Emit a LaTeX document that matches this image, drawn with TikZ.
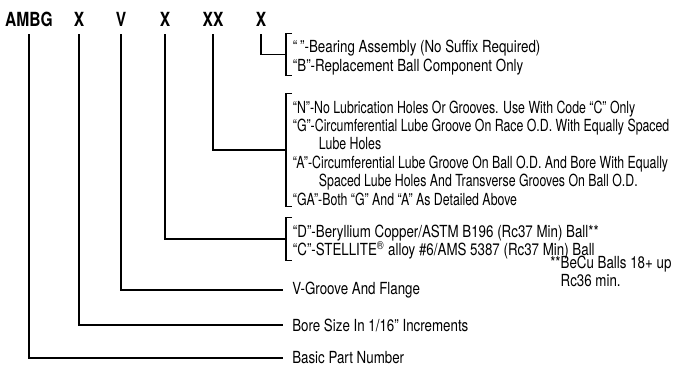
\documentclass[tikz,border=0pt]{standalone}
\usepackage{fontspec}
\setmainfont{TeX Gyre Heros}[FakeStretch=0.8]
\newfontfamily\narrowfont{TeX Gyre Heros}[FakeStretch=0.74]
\usepackage{tikz}
\usetikzlibrary{positioning}

\begin{document}
\begin{tikzpicture}[x=0.75pt,y=-0.75pt,
code/.style={font=\fontsize{14.6}{16}\selectfont\bfseries, inner xsep=0pt, inner ysep=6pt, text height=10.5pt, text depth=0pt},
desc/.style={font=\fontsize{12.5}{13.8}\selectfont, anchor=west, inner xsep=6.75pt, inner ysep=0pt},
group/.style={desc, align=left, inner xsep=5pt, inner ysep=0.5pt},
link/.style={line width=0.8pt},
bracket/.style={line width=0.8pt}
]
\useasboundingbox (0,0) rectangle (674,368);
\node[code] (base) at (29,19) {AMBG};
\node[code] (bore) at (79,19) {X};
\node[code] (vgroove) at (121,19) {V};
\node[code] (ballmat) at (165,19) {X};
\node[code] (lube) at (213,19) {XX};
\node[code] (suffix) at (261,19) {X};

\node[group] (suffixtxt) at (286,54.5) {\rule{0pt}{14pt}“\,”-Bearing Assembly (No Suffix Required)\\“B”-Replacement Ball Component Only};
\node[group, font=\fontsize{12.5}{13.8}\selectfont\narrowfont] (lubetxt) at (286,150) {\rule{0pt}{14pt}“N”-No Lubrication Holes Or Grooves. Use With Code “C” Only\\
“G”-Circumferential Lube Groove On Race O.D. With Equally Spaced\\
\hspace*{19.5pt}Lube Holes\\
“A”-Circumferential Lube Groove On Ball O.D. And Bore With Equally\\
\hspace*{19.5pt}Spaced Lube Holes And Transverse Grooves On Ball O.D.\\
“GA”-Both “G” And “A” As Detailed Above};
\node[group] (ballmattxt) at (286,239) {\rule{0pt}{14pt}“D”-Beryllium Copper/ASTM B196 (Rc37 Min) Ball**\\“C”-STELLITE\textsuperscript{®} alloy \#6/AMS 5387 (Rc37 Min) Ball};
\node[desc, align=left, anchor=north west, inner sep=0pt] (note) at (550,255.5) {**BeCu Balls 18+ up\\\phantom{**}Rc36 min.};
\node[desc] (vgroovetxt) at (283,290) {V-Groove And Flange};
\node[desc] (boretxt) at (283,325) {Bore Size In 1/16” Increments};
\node[desc] (basetxt) at (283,358) {Basic Part Number};

\foreach \g in {suffixtxt,lubetxt,ballmattxt}
  \draw[bracket] ([xshift=4.5pt]\g.north west) -- (\g.north west) -- (\g.south west) -- ([xshift=4.5pt]\g.south west);

\draw[link] (suffix.south) |- (suffixtxt.west);
\draw[link] (lube.south) |- (lubetxt.west);
\draw[link] (ballmat.south) |- (ballmattxt.west);
\draw[link] (vgroove.south) |- (vgroovetxt.west);
\draw[link] (bore.south) |- (boretxt.west);
\draw[link] (base.south) |- (basetxt.west);
\end{tikzpicture}
\end{document}
